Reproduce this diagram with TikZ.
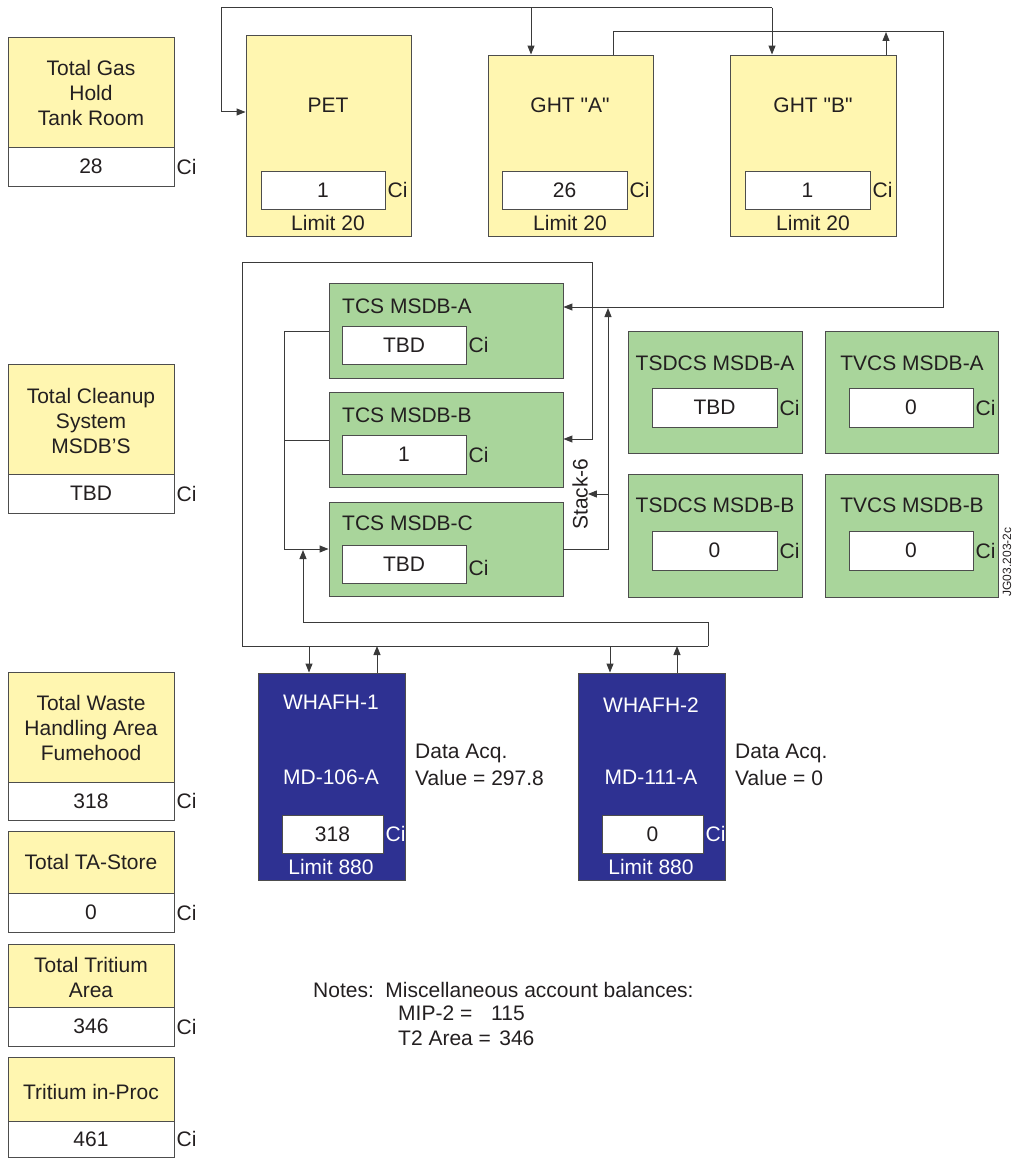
\documentclass[tikz,border=0pt]{standalone}
\usepackage{fontspec}
\setmainfont{Liberation Sans}
\usetikzlibrary{fit,arrows.meta}
\definecolor{yel}{HTML}{FFF6B0}
\definecolor{grn}{HTML}{A9D59B}
\definecolor{nav}{HTML}{2E3192}
\definecolor{ink}{HTML}{231F20}
\definecolor{boxedge}{HTML}{4D4D4D}
\definecolor{wirec}{HTML}{3A3A3A}
\begin{document}
\begin{tikzpicture}[x=1pt,y=-1pt,
  font=\fontsize{21}{25}\selectfont, text=ink,
  bx/.style={draw=boxedge,line width=0.9pt,inner sep=0pt},
  ybox/.style={bx,fill=yel}, gbox/.style={bx,fill=grn},
  nbox/.style={bx,fill=nav}, wbox/.style={bx,fill=white},
  lbl/.style={inner sep=0pt,align=center},
  ci/.style={inner sep=0pt,anchor=west,xshift=2pt},
  wire/.style={draw=wirec,line width=1pt},
  arr/.style={wire,-{Triangle[length=9pt,width=7pt]}},
]
\useasboundingbox (0,0) rectangle (1013,1158);

% ---------- left column ----------
\node[ybox,fit={(8,37) (174,147)}] (gas) {};
\node[wbox,fit={(8,147) (174,186)}] (gasv) {};
\node[lbl] (gasl) at (91,93) {Total Gas\\Hold\\Tank Room};
\node[lbl] (gasn) at (gasv) {28};
\node[ci] (gasci) at (gasv.east) {Ci};

\node[ybox,fit={(8,364) (174,474)}] (cln) {};
\node[wbox,fit={(8,474) (174,513)}] (clnv) {};
\node[lbl] (clnl) at (91,421) {Total Cleanup\\System\\MSDB'S};
\node[lbl] (clnn) at (clnv) {TBD};
\node[ci] (clnci) at (clnv.east) {Ci};

\node[ybox,fit={(8,672) (174,782)}] (wst) {};
\node[wbox,fit={(8,782) (174,820)}] (wstv) {};
\node[lbl] (wstl) at (91,728) {Total Waste\\Handling Area\\Fumehood};
\node[lbl] (wstn) at (wstv) {318};
\node[ci] (wstci) at (wstv.east) {Ci};

\node[ybox,fit={(8,831) (174,893)}] (tas) {};
\node[wbox,fit={(8,893) (174,932)}] (tasv) {};
\node[lbl] (tasl) at (91,862) {Total TA-Store};
\node[lbl] (tasn) at (tasv) {0};
\node[ci] (tasci) at (tasv.east) {Ci};

\node[ybox,fit={(8,944) (174,1007)}] (tta) {};
\node[wbox,fit={(8,1007) (174,1046)}] (ttav) {};
\node[lbl] (ttal) at (91,977) {Total Tritium\\Area};
\node[lbl] (ttan) at (ttav) {346};
\node[ci] (ttaci) at (ttav.east) {Ci};

\node[ybox,fit={(8,1057) (174,1121)}] (tip) {};
\node[wbox,fit={(8,1121) (174,1157)}] (tipv) {};
\node[lbl] (tipl) at (91,1092) {Tritium in-Proc};
\node[lbl] (tipn) at (tipv) {461};
\node[ci] (tipci) at (tipv.east) {Ci};

% ---------- top yellow boxes ----------
\node[ybox,fit={(246,35) (411,236)}] (pet) {};
\node[lbl] (petl) at (328,105) {PET};
\node[wbox,fit={(261,171) (385,209)}] (petv) {};
\node[lbl] (petn) at (petv) {1};
\node[ci] (petci) at (petv.east) {Ci};
\node[lbl] (petlim) at (328,223) {Limit 20};

\node[ybox,fit={(488,55) (653,236)}] (gha) {};
\node[lbl] (ghal) at (570,105) {GHT \textquotedbl A\textquotedbl};
\node[wbox,fit={(502,171) (627,209)}] (ghav) {};
\node[lbl] (ghan) at (ghav) {26};
\node[ci] (ghaci) at (ghav.east) {Ci};
\node[lbl] (ghalim) at (570,223) {Limit 20};

\node[ybox,fit={(730,55) (896,236)}] (ghb) {};
\node[lbl] (ghbl) at (813,105) {GHT \textquotedbl B\textquotedbl};
\node[wbox,fit={(745,171) (870,209)}] (ghbv) {};
\node[lbl] (ghbn) at (ghbv) {1};
\node[ci] (ghbci) at (ghbv.east) {Ci};
\node[lbl] (ghblim) at (813,223) {Limit 20};

% ---------- TCS green boxes ----------
\node[gbox,fit={(329,283) (563,378)}] (tcsa) {};
\node[lbl,anchor=west] (tcsal) at (342,306) {TCS MSDB-A};
\node[wbox,fit={(342,326) (466,364)}] (tcsav) {};
\node[lbl] (tcsan) at (tcsav) {TBD};
\node[ci] (tcsaci) at (tcsav.east) {Ci};

\node[gbox,fit={(329,392) (563,487)}] (tcsb) {};
\node[lbl,anchor=west] (tcsbl) at (342,415) {TCS MSDB-B};
\node[wbox,fit={(342,435) (466,474)}] (tcsbv) {};
\node[lbl] (tcsbn) at (tcsbv) {1};
\node[ci] (tcsbci) at (tcsbv.east) {Ci};

\node[gbox,fit={(329,502) (563,596)}] (tcsc) {};
\node[lbl,anchor=west] (tcscl) at (342,523) {TCS MSDB-C};
\node[wbox,fit={(342,545) (466,583)}] (tcscv) {};
\node[lbl] (tcscn) at (tcscv) {TBD};
\node[ci,yshift=-4pt] (tcscci) at (tcscv.east) {Ci};

\node[lbl,rotate=90] (stack) at (580,494) {Stack-6};

% ---------- right green boxes ----------
\node[gbox,fit={(628,331) (802,453)}] (tsa) {};
\node[lbl] (tsal) at (715,363) {TSDCS MSDB-A};
\node[wbox,fit={(652,388) (777,427)}] (tsav) {};
\node[lbl] (tsan) at (tsav) {TBD};
\node[ci] (tsaci) at (tsav.east) {Ci};

\node[gbox,fit={(825,331) (998,453)}] (tva) {};
\node[lbl] (tval) at (912,363) {TVCS MSDB-A};
\node[wbox,fit={(849,388) (973,427)}] (tvav) {};
\node[lbl] (tvan) at (tvav) {0};
\node[ci] (tvaci) at (tvav.east) {Ci};

\node[gbox,fit={(628,474) (802,597)}] (tsb) {};
\node[lbl] (tsbl) at (715,505) {TSDCS MSDB-B};
\node[wbox,fit={(652,531) (777,570)}] (tsbv) {};
\node[lbl] (tsbn) at (tsbv) {0};
\node[ci] (tsbci) at (tsbv.east) {Ci};

\node[gbox,fit={(825,474) (998,597)}] (tvb) {};
\node[lbl] (tvbl) at (912,505) {TVCS MSDB-B};
\node[wbox,fit={(849,531) (973,570)}] (tvbv) {};
\node[lbl] (tvbn) at (tvbv) {0};
\node[ci] (tvbci) at (tvbv.east) {Ci};

\node[lbl,rotate=90,font=\fontsize{12}{14}\selectfont] (jg) at (1007,562) {JG03.203-2c};

% ---------- WHAFH navy boxes ----------
\node[nbox,fit={(258,673) (405,880)}] (wh1) {};
\node[lbl,text=white] (wh1l) at (331,702) {WHAFH-1};
\node[lbl,text=white] (wh1m) at (331,777) {MD-106-A};
\node[wbox,fit={(282,815) (383,853)}] (wh1v) {};
\node[lbl] (wh1n) at (wh1v) {318};
\node[ci,text=white] (wh1ci) at (wh1v.east) {Ci};
\node[lbl,text=white] (wh1lim) at (331,867) {Limit 880};

\node[nbox,fit={(578,673) (725,880)}] (wh2) {};
\node[lbl,text=white] (wh2l) at (651,705) {WHAFH-2};
\node[lbl,text=white] (wh2m) at (651,777) {MD-111-A};
\node[wbox,fit={(602,815) (703,853)}] (wh2v) {};
\node[lbl] (wh2n) at (wh2v) {0};
\node[ci,text=white] (wh2ci) at (wh2v.east) {Ci};
\node[lbl,text=white] (wh2lim) at (651,867) {Limit 880};

\node[lbl,align=left,anchor=north west,font=\fontsize{21}{27}\selectfont] (daq1) at (415,744) {Data Acq.\\Value = 297.8};
\node[lbl,align=left,anchor=north west,font=\fontsize{21}{27}\selectfont] (daq2) at (735,744) {Data Acq.\\Value = 0};

% ---------- notes ----------
\node[lbl,anchor=west] (notes) at (313,990) {Notes:\hspace{0.55em}Miscellaneous account balances:};
\node[lbl,anchor=west] (mip) at (398,1013) {MIP-2 =\hspace{0.9em}115};
\node[lbl,anchor=west] (t2) at (398,1038) {T2 Area =\hspace{0.4em}346};

% ---------- connectors ----------
\coordinate (tl) at (221,8);
\draw[arr] (772,8) -- (tl) -- (221,112) -- (pet.west |- 0,112);
\draw[arr] (531,8) -- (gha.north -| 531,0);
\draw[arr] (772,8) -- (ghb.north -| 772,0);

\draw[arr] (gha.north -| 613,0) -- (613,32) -- (943,32) -- (943,307) -- (tcsa.east |- 0,307);
\draw[arr] (ghb.north -| 886,0) -- (886,32);

\draw[arr] (708,646) -- (242,646) -- (242,262) -- (592,262) -- (592,439) -- (tcsb.east |- 0,439);
\draw[arr] (708,646) -- (708,622) -- (303,622) -- (303,550);

\draw[wire] (tcsa.west |- 0,331) -- (284,331) -- (284,549);
\draw[wire] (tcsb.west |- 0,440) -- (284,440);
\draw[arr] (284,549) -- (tcsc.west |- 0,549);

\draw[arr] (tcsc.east |- 0,549) -- (608,549) -- (608,308);
\draw[arr] (608,494) -- (stack.south |- 0,494);

\draw[arr] (309,646) -- (wh1.north -| 309,0);
\draw[arr] (wh1.north -| 377,0) -- (377,646);
\draw[arr] (610,646) -- (wh2.north -| 610,0);
\draw[arr] (wh2.north -| 677,0) -- (677,646);
\end{tikzpicture}
\end{document}
